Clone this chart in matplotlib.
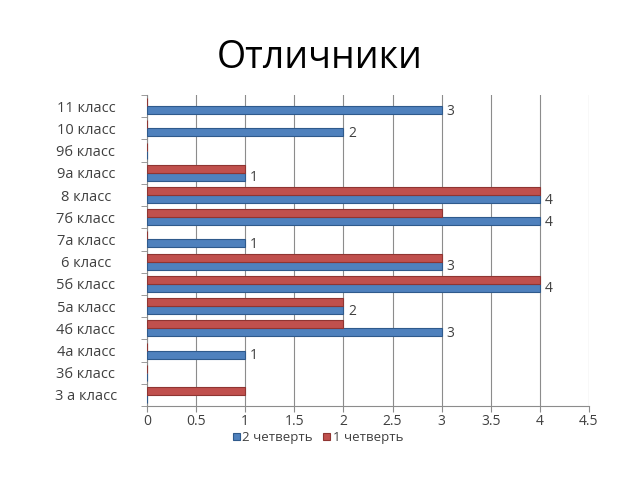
import numpy as np
import matplotlib.pyplot as plt

# categories bottom -> top
classes = ["3 а класс", "3б класс", "4а класс", "4б класс", "5а класс", "5б класс",
           "6 класс", "7а класс", "7б класс", "8 класс", "9а класс", "9б класс",
           "10 класс", "11 класс"]
q2 = [0, 0, 1, 3, 2, 4, 3, 1, 4, 4, 1, 0, 2, 3]   # 2 четверть
q1 = [1, 0, 0, 2, 2, 4, 3, 0, 3, 4, 1, 0, 0, 0]   # 1 четверть
x_ticks = [0, 0.5, 1, 1.5, 2, 2.5, 3, 3.5, 4, 4.5]
x_labels = ["0", "0.5", "1", "1.5", "2", "2.5", "3", "3.5", "4", "4.5"]

plt.rcParams['font.family'] = ['Open Sans', 'DejaVu Sans']

fig = plt.figure(figsize=(6.4, 4.8), dpi=100)
ax = fig.add_axes([0.2297, 0.154, 0.6906, 0.648])

y = np.arange(len(classes))
h = 0.36
grey = "#8c8c8c"
text_col = "#404040"

blue = ax.barh(y - h / 2, q2, height=h, color="#4F81BD", edgecolor="#2f5a8c",
               linewidth=0.8, label="2 четверть", zorder=3)
red = ax.barh(y + h / 2, q1, height=h, color="#C0504D", edgecolor="#8f3532",
              linewidth=0.8, label="1 четверть", zorder=3)

for yi, v in zip(y, q2):
    if v > 0:
        ax.text(v + 0.05, yi - h / 2 - 0.05, str(v), va="center", ha="left",
                fontsize=10, color=text_col)

ax.set_xlim(0, 4.5)
ax.set_ylim(-0.5, len(classes) - 0.5)
ax.set_xticks(x_ticks)
ax.set_xticklabels(x_labels, fontsize=10, color=text_col)
ax.set_yticks(y)
ax.set_yticklabels(classes, fontsize=10.5, color=text_col)
ax.tick_params(axis="y", length=0, pad=44)
ax.set_yticks(np.arange(-0.5, len(classes)), minor=True)
ax.tick_params(axis="y", which="minor", length=4, color=grey, direction="out")
ax.tick_params(axis="x", length=4, color=grey, direction="out", pad=2)
for lbl in ax.get_yticklabels():
    lbl.set_horizontalalignment("center")

ax.grid(axis="x", color=grey, linewidth=0.8, zorder=0)
for side in ["top", "right"]:
    ax.spines[side].set_visible(False)
for side in ["left", "bottom"]:
    ax.spines[side].set_color(grey)

fig.text(0.5, 0.88, "Отличники", ha="center", va="center", fontsize=27, color="black")

fig.legend(handles=[blue, red], loc="center", bbox_to_anchor=(0.497, 0.088), ncol=2,
           frameon=False, fontsize=9.5, handlelength=0.5, handleheight=0.5,
           handletextpad=0.2, columnspacing=0.8, labelcolor=text_col)

fig.savefig("out.png", dpi=100)
